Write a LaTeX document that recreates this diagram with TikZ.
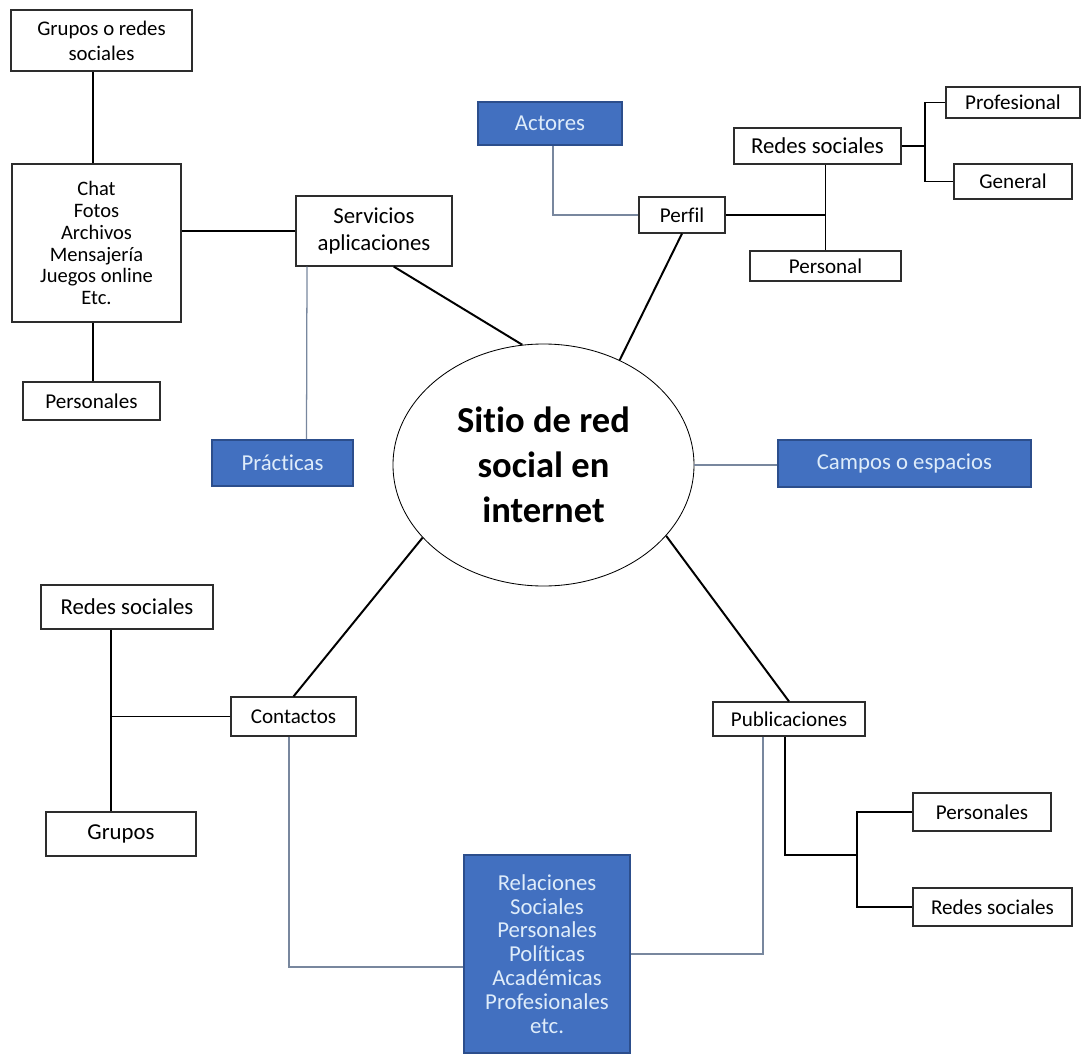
\documentclass[tikz,border=0pt]{standalone}
\usepackage{fontspec}
\setmainfont{Carlito}[Ligatures=NoCommon]
\usepackage{tikz}
\usetikzlibrary{shapes,positioning,calc}
\definecolor{srblue}{RGB}{66,112,192}
\definecolor{srdarkblue}{RGB}{44,78,140}
\definecolor{srpale}{RGB}{222,236,250}
\definecolor{srgrey}{RGB}{120,135,158}
\definecolor{srline}{RGB}{45,45,45}
\tikzstyle{box} = [rectangle, draw=srline, line width=0.8pt, fill=white, align=center, inner sep=0pt, font=\fontsize{15}{17.8}\selectfont]
\tikzstyle{bigtext} = [font=\fontsize{16.2}{19}\selectfont]
\tikzstyle{bluebox} = [rectangle, draw=srdarkblue, line width=1.2pt, fill=srblue, text=srpale, align=center, inner sep=0pt, font=\fontsize{16.2}{17}\selectfont]
\tikzstyle{link} = [line width=1.4pt, color=black]
\tikzstyle{softlink} = [line width=0.9pt, color=srgrey]

\begin{document}
\begin{tikzpicture}[x=0.25mm, y=-0.25mm]
    \useasboundingbox (0,0) rectangle (1081,1057);

    % Centre
    \node[ellipse, draw=black, line width=0.6pt, fill=white, minimum width=75.25mm, minimum height=60.5mm, inner sep=0pt, align=center, font=\fontsize{26}{32}\selectfont\bfseries] (sitio) at (543.5,465) {Sitio de red\\social en\\internet};

    % Servicios
    \node[box, minimum width=39mm, minimum height=17.5mm, font=\fontsize{16.2}{19.7}\selectfont] (servicios) at (374,231) {Servicios\\aplicaciones};
    \node[box, minimum width=42.25mm, minimum height=39.5mm, font=\fontsize{14.6}{15.6}\selectfont] (servlist) at (96.5,243) {Chat\\Fotos\\Archivos\\Mensajería\\Juegos online\\Etc.};
    \node[box, minimum width=45.25mm, minimum height=15.25mm, font=\fontsize{14.8}{17.8}\selectfont] (grupored) at (101.5,40.5) {Grupos o redes\\sociales};
    \node[box, minimum width=34.25mm, minimum height=9.5mm] (personales) at (91.5,401) {Personales};
    \node[bluebox, minimum width=35.25mm, minimum height=11.5mm] (practicas) at (282.5,463) {Prácticas};

    % Perfil
    \node[bluebox, minimum width=36mm, minimum height=10.75mm] (actores) at (550,123.5) {Actores};
    \node[box, minimum width=21.5mm, minimum height=9mm] (perfil) at (682,215) {Perfil};
    \node[box, bigtext, minimum width=41.75mm, minimum height=9mm] (redesperfil) at (817.5,146) {Redes sociales};
    \node[box, minimum width=37.75mm, minimum height=7.5mm] (personal) at (825.5,266) {Personal};
    \node[box, minimum width=33.5mm, minimum height=7.75mm] (profesional) at (1013,102.5) {Profesional};
    \node[box, minimum width=29.5mm, minimum height=8.75mm] (general) at (1013,181.5) {General};

    % Campos
    \node[bluebox, minimum width=63.25mm, minimum height=11.75mm] (campos) at (904.5,463.5) {Campos o espacios};

    % Contactos
    \node[box, minimum width=31.25mm, minimum height=9.75mm] (contactos) at (293.5,716.5) {Contactos};
    \node[box, bigtext, minimum width=43mm, minimum height=11mm] (redescont) at (127,607) {Redes sociales};
    \node[box, bigtext, minimum width=37.5mm, minimum height=11mm] (grupos) at (121,834) {Grupos};

    % Publicaciones
    \node[box, minimum width=38mm, minimum height=8.5mm] (publicaciones) at (789,719) {Publicaciones};
    \node[box, minimum width=34.5mm, minimum height=9.5mm] (personalespub) at (982,812) {Personales};
    \node[box, minimum width=39.75mm, minimum height=9.5mm] (redespub) at (992.5,907) {Redes sociales};

    % Relaciones
    \node[bluebox, minimum width=41.5mm, minimum height=49.5mm] (relaciones) at (547,954) {Relaciones\\Sociales\\Personales\\Políticas\\Académicas\\Profesionales\\etc.};

    % Branch points
    \coordinate (perfiljoin) at (personal.north |- perfil.east);
    \coordinate (redesjoin) at (925,146);
    \coordinate (contjoin) at (111,716.5);
    \coordinate (pubjoin) at (857,855);

    % Links to the centre
    \draw[link] (servicios.-61) -- (sitio.100);
    \draw[link] (perfil.south) -- (sitio.54);
    \draw[link] (contactos.north) -- (sitio.211);
    \draw[link] (publicaciones.north) -- (sitio.-30);
    \draw[softlink] (sitio.east) -- (sitio.east -| campos.west);

    % Servicios tree
    \draw[link] ($(servlist.north)+(-3.5,0)$) -- ($(grupored.south)+(-8.5,0)$);
    \draw[link] ($(servlist.south)+(-3.5,0)$) -- ($(personales.north)+(1.5,0)$);
    \draw[link] (servlist.east |- servicios.west) -- (servicios.west);
    \draw[softlink] ($(servicios.south)+(-67,0)$) -- ($(practicas.north)+(24,0)$);

    % Perfil tree
    \draw[softlink] ($(actores.south)+(3,0)$) |- (perfil.west);
    \draw[link] (perfil.east) -- (perfiljoin);
    \draw[link] (personal.north) -- (personal.north |- redesperfil.south);
    \draw[link] (redesperfil.east) -- (redesjoin);
    \draw[link] (profesional.west) -| (redesjoin) |- (general.west);

    % Contactos tree
    \draw[link] (contactos.west) -- (contjoin);
    \draw[link] (contjoin |- redescont.south) -- (contjoin |- grupos.north);
    \draw[softlink] ($(contactos.south)+(-4.5,0)$) |- ($(relaciones.west)+(0,13)$);

    % Publicaciones tree
    \draw[link] ($(publicaciones.south)+(-4,0)$) |- (pubjoin);
    \draw[link] (personalespub.west) -| (pubjoin) |- (redespub.west);
    \draw[softlink] ($(publicaciones.south)+(-26,0)$) |- (relaciones.east);
\end{tikzpicture}
\end{document}
